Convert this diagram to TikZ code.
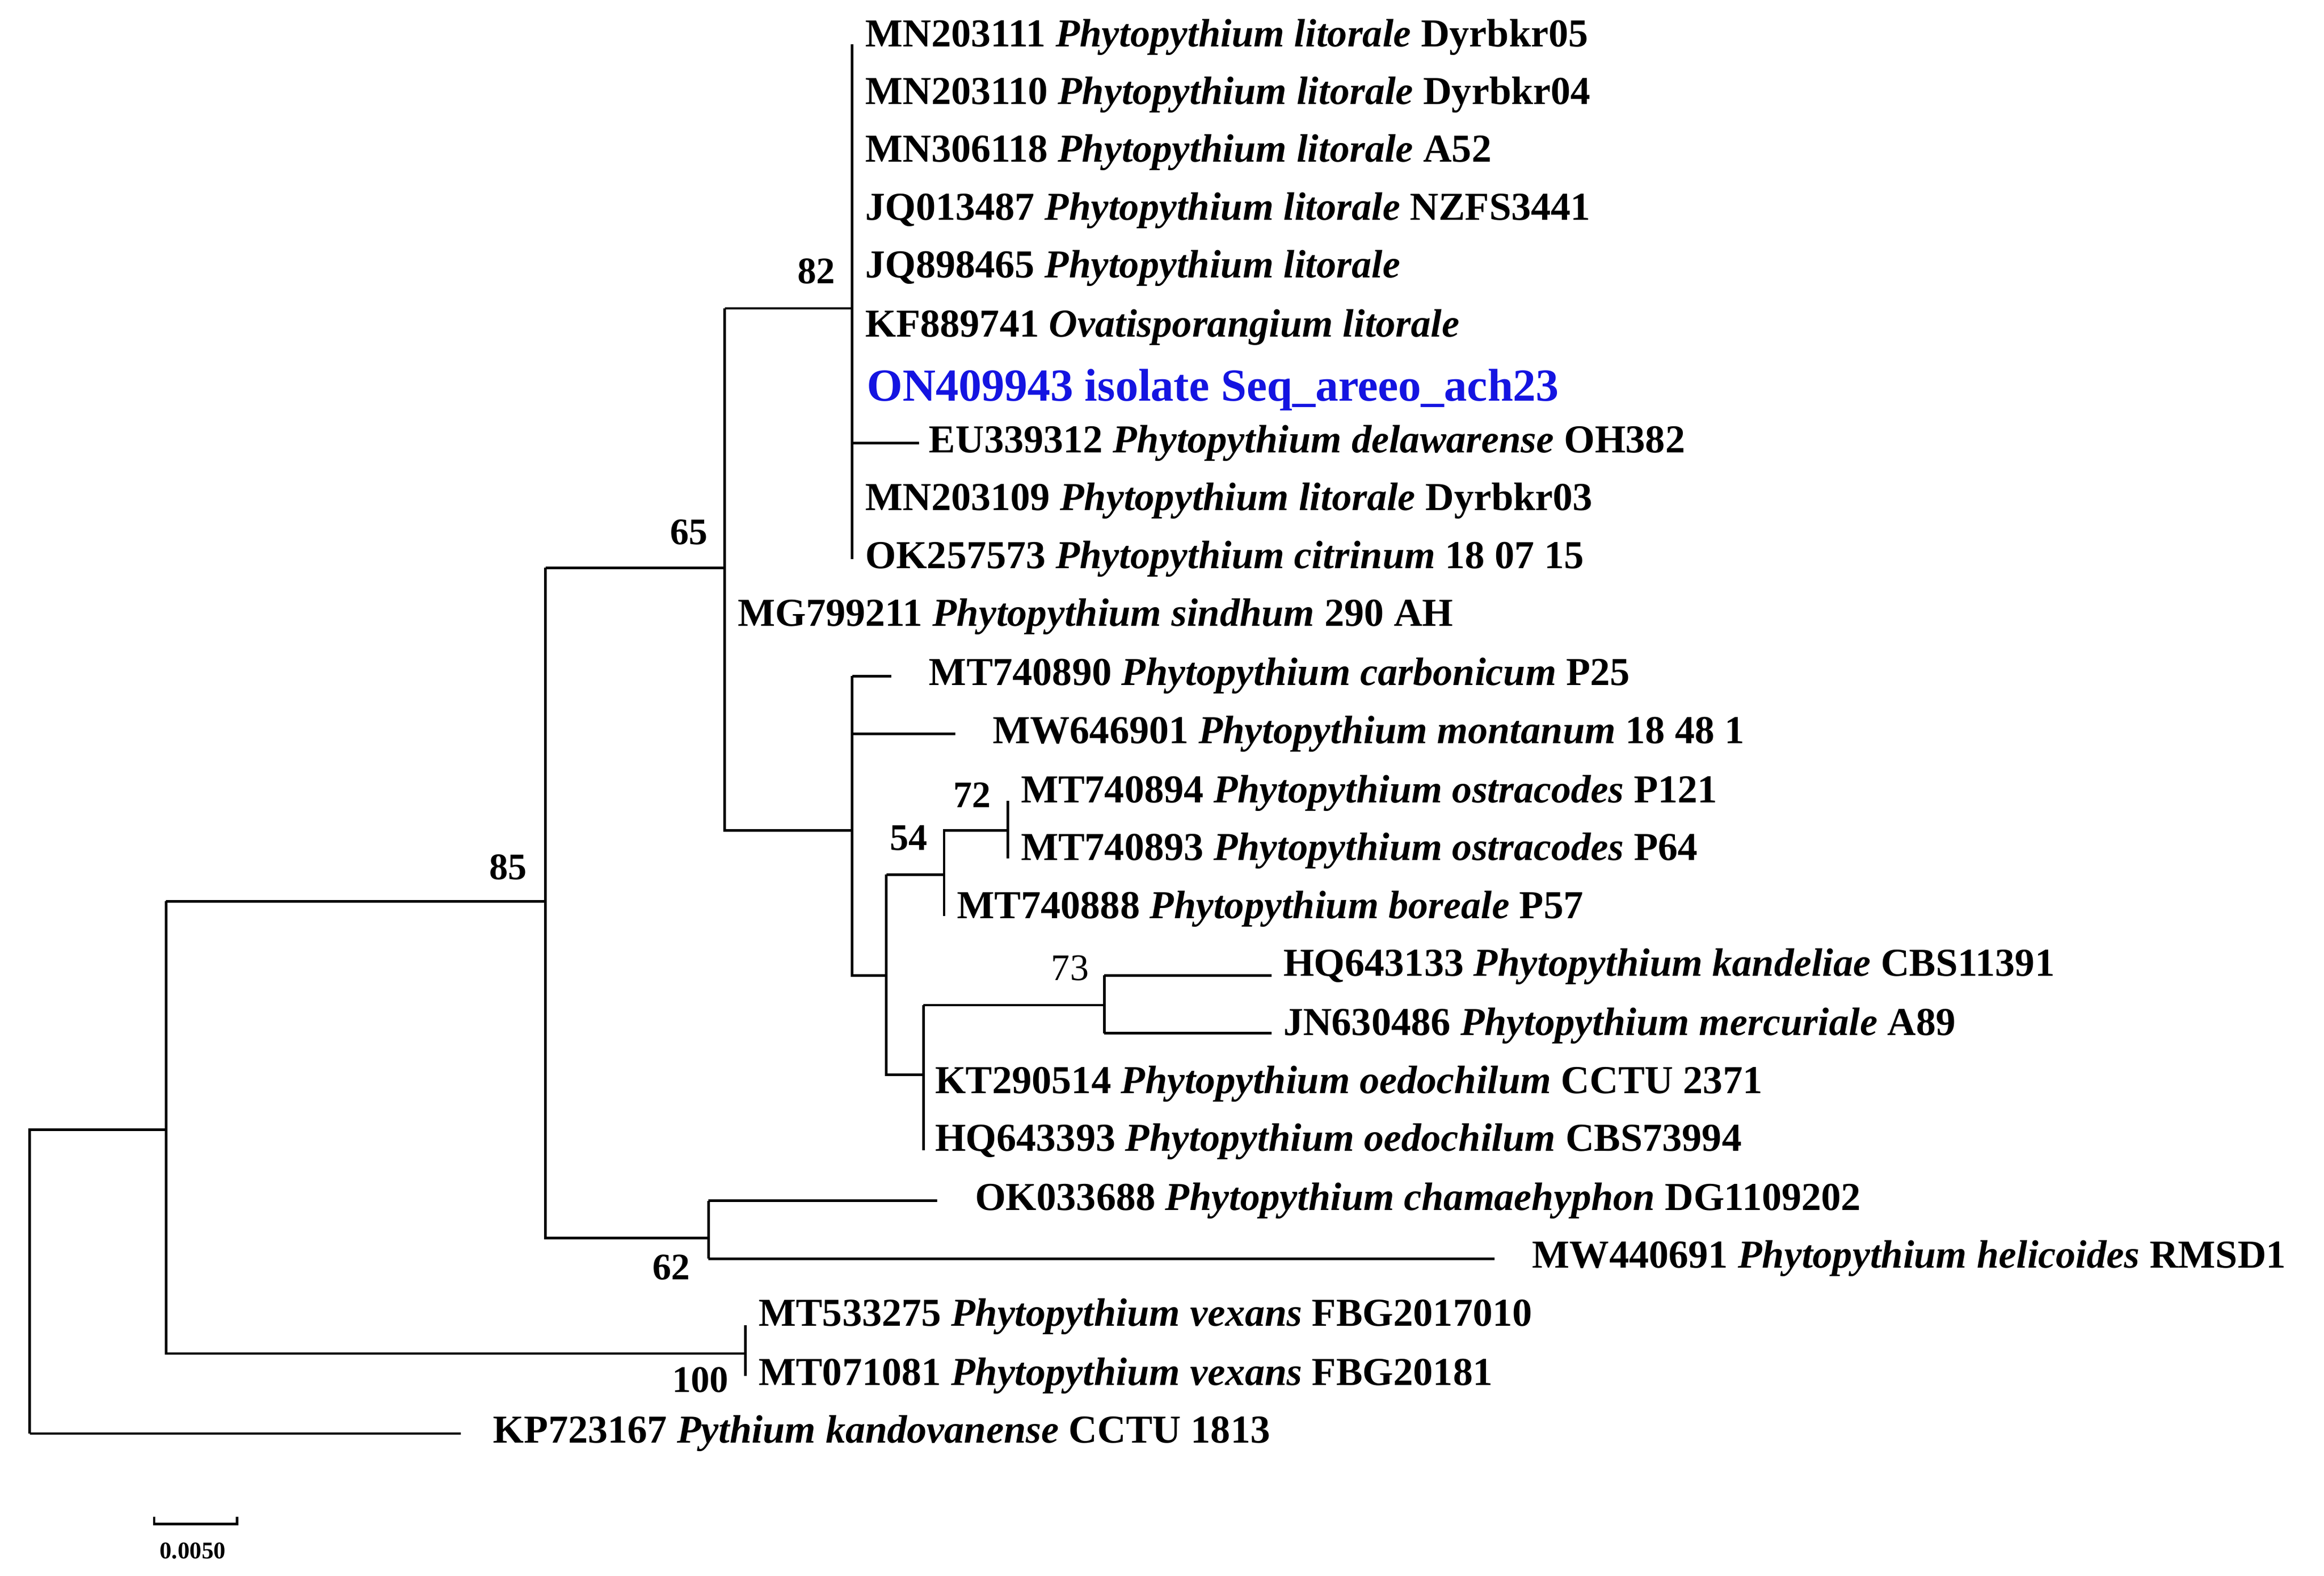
\documentclass[tikz,border=0pt]{standalone}
\usepackage{fontspec}
\setmainfont{Liberation Serif}
\begin{document}
\begin{tikzpicture}[x=0.01cm,y=-0.01cm,line width=0.5pt,
 lab/.style={anchor=west,inner sep=0pt,font=\fontsize{7.6}{8}\selectfont\bfseries},
 bs/.style={anchor=south east,inner sep=1pt,font=\fontsize{7.2}{8}\selectfont\bfseries},
 br/.style={draw,black}]
\useasboundingbox (0,0) rectangle (1568,1063);
% internal nodes
\coordinate (r) at (20,762); \coordinate (r1) at (112,762);
\coordinate (n1) at (112,608); \coordinate (n1b) at (112,913);
\coordinate (a) at (368,608); \coordinate (v) at (503,913);
\coordinate (a1) at (368,383); \coordinate (a2) at (368,835);
\coordinate (b) at (489,383); \coordinate (c) at (478,835);
\coordinate (b1) at (489,208); \coordinate (b2) at (489,560);
\coordinate (t) at (575,208); \coordinate (u) at (575,560);
\coordinate (u1) at (575,658); \coordinate (w) at (598,658);
\coordinate (w1) at (598,590); \coordinate (w2) at (598,725);
\coordinate (p) at (637,590); \coordinate (p1) at (637,560);
\coordinate (q) at (680,560); \coordinate (s) at (623,725);
\coordinate (s1) at (623,678); \coordinate (m) at (745,678);
% labels
\node[lab] (L1) at (583,25) {MN203111 \textit{Phytopythium litorale} Dyrbkr05};
\node[lab] (L2) at (583,64) {MN203110 \textit{Phytopythium litorale} Dyrbkr04};
\node[lab] (L3) at (583,103) {MN306118 \textit{Phytopythium litorale} A52};
\node[lab] (L4) at (583,142) {JQ013487 \textit{Phytopythium litorale} NZFS3441};
\node[lab] (L5) at (583,181) {JQ898465 \textit{Phytopythium litorale}};
\node[lab] (L6) at (583,221) {KF889741 \textit{Ovatisporangium litorale}};
\node[lab,font=\fontsize{8.8}{9}\selectfont\bfseries,text={rgb,255:red,20;green,20;blue,225}] (L7) at (584,263) {ON409943 isolate Seq\_areeo\_ach23};
\node[lab] (L8) at (626,299) {EU339312 \textit{Phytopythium delawarense} OH382};
\node[lab] (L9) at (583,338) {MN203109 \textit{Phytopythium litorale} Dyrbkr03};
\node[lab] (L10) at (583,377) {OK257573 \textit{Phytopythium citrinum} 18 07 15};
\node[lab] (L11) at (497,416) {MG799211 \textit{Phytopythium sindhum} 290 AH};
\node[lab] (L12) at (626,456) {MT740890 \textit{Phytopythium carbonicum} P25};
\node[lab] (L13) at (669,495) {MW646901 \textit{Phytopythium montanum} 18 48 1};
\node[lab] (L14) at (688,535) {MT740894 \textit{Phytopythium ostracodes} P121};
\node[lab] (L15) at (688,574) {MT740893 \textit{Phytopythium ostracodes} P64};
\node[lab] (L16) at (645,613) {MT740888 \textit{Phytopythium boreale} P57};
\node[lab] (L17) at (865,652) {HQ643133 \textit{Phytopythium kandeliae} CBS11391};
\node[lab] (L18) at (865,692) {JN630486 \textit{Phytopythium mercuriale} A89};
\node[lab] (L19) at (630,731) {KT290514 \textit{Phytopythium oedochilum} CCTU 2371};
\node[lab] (L20) at (630,770) {HQ643393 \textit{Phytopythium oedochilum} CBS73994};
\node[lab] (L21) at (657,810) {OK033688 \textit{Phytopythium chamaehyphon} DG1109202};
\node[lab] (L22) at (1033,849) {MW440691 \textit{Phytopythium helicoides} RMSD1};
\node[lab] (L23) at (511,888) {MT533275 \textit{Phytopythium vexans} FBG2017010};
\node[lab] (L24) at (511,928) {MT071081 \textit{Phytopythium vexans} FBG20181};
\node[lab] (L25) at (332,967) {KP723167 \textit{Pythium kandovanense} CCTU 1813};
% leaf endpoints
\coordinate (e1) at (575,30); \coordinate (e10) at (575,377);
\coordinate (e8) at (620,299); \coordinate (e8a) at (575,299);
% branches
\draw[br] (r|-L25.west) -- (r) -- (r1);
\draw[br] (r|-L25.west) -- ([xshift=-6]L25.west);
\draw[br] (n1) -- (n1b) -- (v);
\draw[br] (503,894) -- (503,928);
\draw[br] (n1) -- (a);
\draw[br] (a1) -- (a2) -- (c);
\draw[br] (a1) -- (b);
\draw[br] (c|-L21.west) -- (c|-L22.west);
\draw[br] (c|-L21.west) -- ([xshift=-7]L21.west);
\draw[br] (c|-L22.west) -- ([xshift=-7]L22.west);
\draw[br] (b1) -- (b2) -- (u);
\draw[br] (b1) -- (t);
\draw[br] (e1) -- (e10);
\draw[br] (e8a) -- (e8);
\draw[br] (u|-L12.west) -- (u1) -- (w);
\draw[br] (u|-L12.west) -- ([xshift=-7]L12.west);
\draw[br] (u|-L13.west) -- ([xshift=-7]L13.west);
\draw[br] (w1) -- (w2) -- (s);
\draw[br] (w1) -- (p) -- (637,618);
\draw[br] (p) -- (p1) -- (q);
\draw[br] (680,540) -- (680,579);
\draw[br] (s1) -- (623,776);
\draw[br] (s1) -- (m);
\draw[br] (745,658) -- (745,697);
\draw[br] (745,658) -- (858,658);
\draw[br] (745,697) -- (858,697);
% bootstrap
\node[bs] (B82) at (568,196) {82};
\node[bs] (B65) at (482,372) {65};
\node[bs] (B85) at (360,598) {85};
\node[bs,anchor=north east] (B62) at (470,842) {62};
\node[bs,anchor=north east] (B100) at (496,918) {100};
\node[bs] (B72) at (673,549) {72};
\node[bs] (B54) at (630,578) {54};
\node[bs,font=\fontsize{7.2}{8}\selectfont] (B73) at (739,666) {73};
% scale
\coordinate (s0) at (104,1028); \coordinate (s9) at (160,1028);
\draw[br] (104,1023) -- (s0) -- (s9) -- (160,1023);
\node[font=\fontsize{4.6}{5}\selectfont\bfseries,inner sep=0pt] (SL) at (130,1046) {0.0050};
\end{tikzpicture}
\end{document}
